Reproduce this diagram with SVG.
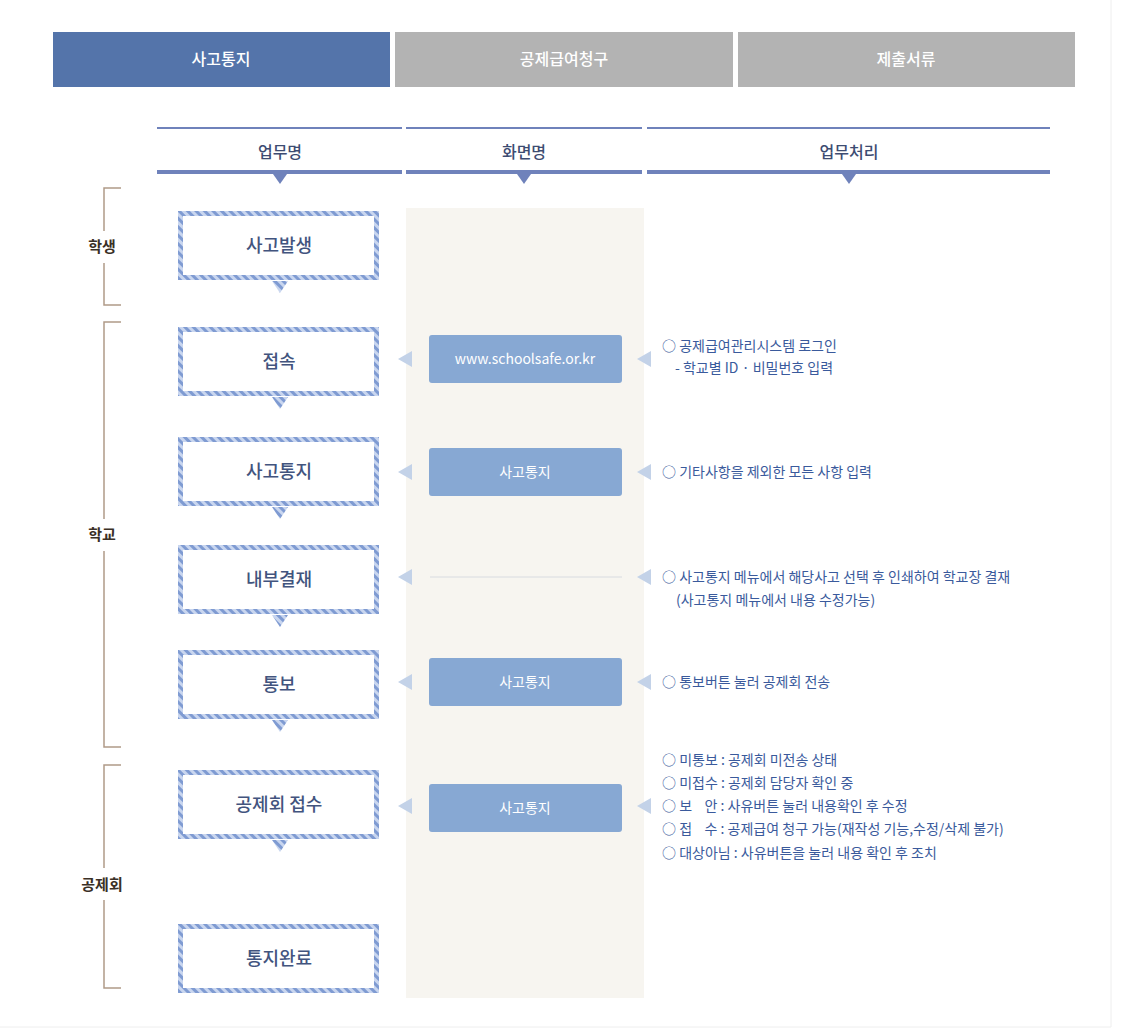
<svg xmlns="http://www.w3.org/2000/svg" width="1131" height="1030" viewBox="0 0 1131 1030">
<defs>
<pattern id="stripe" width="6" height="6" patternUnits="userSpaceOnUse" patternTransform="rotate(-45)">
<rect width="6" height="6" fill="#c9d6ef"/>
<rect width="3" height="6" fill="#7f9bd2"/>
</pattern>
<style>
text{font-family:"Noto Sans CJK KR","Noto Sans",sans-serif}
.tab{font-size:16px;fill:#fff;text-anchor:middle;font-weight:500}
.hd{font-size:16px;fill:#3d4c72;text-anchor:middle;font-weight:500}
.nd{font-size:18px;fill:#42547e;text-anchor:middle;font-weight:500}
.box{fill:#fff;stroke:url(#stripe);stroke-width:5}
.ptr{fill:url(#stripe)}
.pill{fill:#87a8d3}
.pt{font-size:14px;fill:#fff;text-anchor:middle}
.ar{fill:#c3d2e8}
.rt{font-size:14px;fill:#3a5a9c}
.br{fill:none;stroke:#b09a88;stroke-width:1.5}
.lb{font-size:15px;fill:#3a3026;text-anchor:middle;font-weight:700}
</style>
</defs>
<rect width="1131" height="1030" fill="#fff"/>
<line x1="1111" y1="0" x2="1111" y2="1027" stroke="#eeeeee"/>
<line x1="0" y1="1027" x2="1111" y2="1027" stroke="#eeeeee"/>
<g id="tabs">
<rect x="53" y="32" width="337" height="55" fill="#5474aa"/>
<rect x="395" y="32" width="338" height="55" fill="#b3b3b3"/>
<rect x="738" y="32" width="337" height="55" fill="#b3b3b3"/>
<text class="tab" x="221" y="65">사고통지</text>
<text class="tab" x="564" y="65">공제급여청구</text>
<text class="tab" x="906" y="65">제출서류</text>
</g>
<g id="headers">
<g fill="#6f82bb">
<rect x="157" y="127" width="245" height="2"/>
<rect x="406" y="127" width="236" height="2"/>
<rect x="647" y="127" width="403" height="2"/>
<rect x="157" y="170" width="245" height="4"/>
<rect x="406" y="170" width="236" height="4"/>
<rect x="647" y="170" width="403" height="4"/>
<polygon points="273,174 287,174 280,184"/>
<polygon points="517,174 531,174 524,184"/>
<polygon points="842,174 856,174 849,184"/>
</g>
<text class="hd" x="280" y="158">업무명</text>
<text class="hd" x="524" y="158">화면명</text>
<text class="hd" x="849" y="158">업무처리</text>
</g>
<rect x="406" y="208" width="238" height="790" fill="#f7f5f0"/>
<g id="brackets">
<path class="br" d="M121,188 H104 V231 M104,263 V305 H121"/>
<text class="lb" x="102" y="252">학생</text>
<path class="br" d="M121,322 H104 V519 M104,551 V747 H121"/>
<text class="lb" x="102" y="540">학교</text>
<path class="br" d="M121,765 H104 V868 M104,900 V988 H121"/>
<text class="lb" x="102" y="890">공제회</text>
</g>
<g id="connectors">
<polygon class="ptr" points="272,281 288,281 280,293"/>
<polygon class="ptr" points="272,397 288,397 280,409"/>
<polygon class="ptr" points="272,507 288,507 280,519"/>
<polygon class="ptr" points="272,615 288,615 280,627"/>
<polygon class="ptr" points="272,720 288,720 280,732"/>
<polygon class="ptr" points="272,840 288,840 280,852"/>
<polygon class="ar" points="412,351 412,367 398,359"/>
<polygon class="ar" points="651,351 651,367 637,359"/>
<polygon class="ar" points="412,464 412,480 398,472"/>
<polygon class="ar" points="651,464 651,480 637,472"/>
<polygon class="ar" points="412,569 412,585 398,577"/>
<polygon class="ar" points="651,569 651,585 637,577"/>
<line x1="430" y1="577" x2="622" y2="577" stroke="#d8dbe0" stroke-width="1"/>
<polygon class="ar" points="412,674 412,690 398,682"/>
<polygon class="ar" points="651,674 651,690 637,682"/>
<polygon class="ar" points="412,798 412,814 398,806"/>
<polygon class="ar" points="651,798 651,814 637,806"/>
</g>
<g id="n1"><rect class="box" x="180.5" y="213.5" width="196" height="64"/><text class="nd" x="279" y="252">사고발생</text></g>
<g id="n2"><rect class="box" x="180.5" y="329.5" width="196" height="64"/><text class="nd" x="279" y="368">접속</text></g>
<g id="n3"><rect class="box" x="180.5" y="439.5" width="196" height="64"/><text class="nd" x="279" y="478">사고통지</text></g>
<g id="n4"><rect class="box" x="180.5" y="547.5" width="196" height="64"/><text class="nd" x="279" y="586">내부결재</text></g>
<g id="n5"><rect class="box" x="180.5" y="652.5" width="196" height="64"/><text class="nd" x="279" y="691">통보</text></g>
<g id="n6"><rect class="box" x="180.5" y="772.5" width="196" height="64"/><text class="nd" x="279" y="811">공제회 접수</text></g>
<g id="n7"><rect class="box" x="180.5" y="926.5" width="196" height="64"/><text class="nd" x="279" y="965">통지완료</text></g>
<g id="s1"><rect class="pill" x="429" y="335" width="193" height="48" rx="3"/><text class="pt" x="525" y="364" font-size="15">www.schoolsafe.or.kr</text></g>
<g id="s2"><rect class="pill" x="429" y="448" width="193" height="48" rx="3"/><text class="pt" x="525" y="477">사고통지</text></g>
<g id="s3"><rect class="pill" x="429" y="658" width="193" height="48" rx="3"/><text class="pt" x="525" y="687">사고통지</text></g>
<g id="s4"><rect class="pill" x="429" y="784" width="193" height="48" rx="3"/><text class="pt" x="525" y="813">사고통지</text></g>
<g id="t1"><text class="rt" x="662" y="351">○ 공제급여관리시스템 로그인</text><text class="rt" x="675" y="373">- 학교별 ID · 비밀번호 입력</text></g>
<g id="t2"><text class="rt" x="662" y="477">○ 기타사항을 제외한 모든 사항 입력</text></g>
<g id="t3"><text class="rt" x="662" y="582">○ 사고통지 메뉴에서 해당사고 선택 후 인쇄하여 학교장 결재</text><text class="rt" x="676" y="605">(사고통지 메뉴에서 내용 수정가능)</text></g>
<g id="t4"><text class="rt" x="662" y="687">○ 통보버튼 눌러 공제회 전송</text></g>
<g id="t5">
<text class="rt" x="662" y="765">○ 미통보 : 공제회 미전송 상태</text>
<text class="rt" x="662" y="788">○ 미접수 : 공제회 담당자 확인 중</text>
<text class="rt" x="662" y="811" xml:space="preserve">○ 보    안 : 사유버튼 눌러 내용확인 후 수정</text>
<text class="rt" x="662" y="834" xml:space="preserve">○ 접    수 : 공제급여 청구 가능(재작성 기능,수정/삭제 불가)</text>
<text class="rt" x="662" y="858">○ 대상아님 : 사유버튼을 눌러 내용 확인 후 조치</text>
</g>
</svg>
